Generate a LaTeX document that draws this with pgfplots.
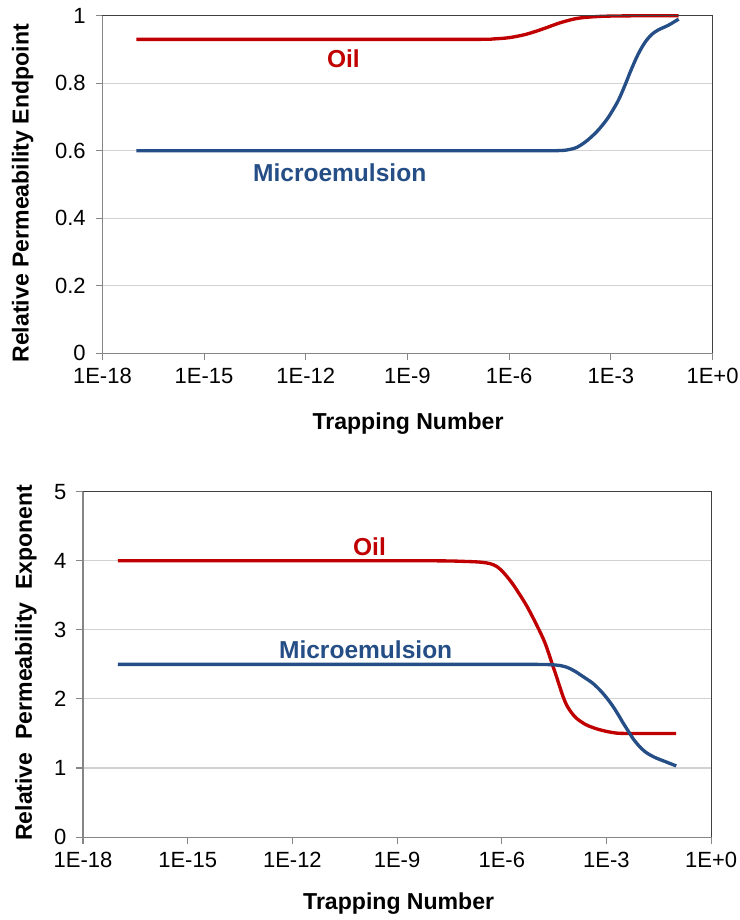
\documentclass[border=0pt]{standalone}
\usepackage{pgfplots}
\pgfplotsset{compat=1.18}
\usepackage{fontspec}
\setmainfont{Liberation Sans}
\definecolor{oilred}{RGB}{192,0,0}
\definecolor{meblue}{RGB}{37,78,134}
\definecolor{gridgray}{RGB}{210,210,210}
\definecolor{axgray}{RGB}{134,134,134}
\pgfplotsset{
  myax/.style={
    scale only axis,
    xmin=-18, xmax=0,
    xtick={-18,-15,-12,-9,-6,-3,0},
    xticklabels={1E-18,1E-15,1E-12,1E-9,1E-6,1E-3,1E+0},
    ymajorgrids,
    major grid style={gridgray, line width=0.8pt},
    axis line style={axgray, line width=0.8pt},
    tick style={axgray, line width=0.8pt},
    tick align=outside,
    xtick pos=bottom, ytick pos=left,
    major tick length=5pt,
    tick label style={font=\fontsize{16.5}{18}\selectfont, text=black},
    xticklabel style={yshift=-3pt},
    yticklabel style={xshift=-4pt},
    /pgf/number format/assume math mode=true,
    clip=false,
  },
  oil/.style={oilred, line width=2.5pt, smooth, tension=0.5, line join=round},
  me/.style={meblue, line width=2.5pt, smooth, tension=0.5, line join=round},
}
\begin{document}
\begin{tikzpicture}
\useasboundingbox (0,0) rectangle (554.25pt,-690pt);
% ---------------- top axis
\begin{axis}[myax,
  at={(76.8pt,-11.8pt)}, anchor=north west,
  width=457.6pt, height=253pt,
  ymin=0, ymax=1, ytick={0,0.2,0.4,0.6,0.8,1},
  yticklabels={0,0.2,0.4,0.6,0.8,1},
]
\addplot[oil] coordinates {
(-17,0.93) (-12,0.93) (-7,0.93) (-6.5,0.931) (-6,0.935) (-5.5,0.945) (-5,0.961)
(-4.5,0.979) (-4,0.992) (-3.5,0.997) (-3,0.999) (-2,1.0) (-1,1.0)};
\addplot[me] coordinates {
(-17,0.6) (-12,0.6) (-7,0.6) (-5,0.6) (-4.6,0.600) (-4.3,0.602) (-4.0,0.610)
(-3.7,0.630) (-3.4,0.658) (-3.1,0.695) (-2.8,0.745) (-2.6,0.790) (-2.4,0.840)
(-2.2,0.885) (-2.0,0.920) (-1.8,0.944) (-1.6,0.958) (-1.3,0.972) (-1,0.99)};
\draw[black!75, line width=0.8pt] (rel axis cs:0,1) -- (rel axis cs:1,1) -- (rel axis cs:1,0);
\node[oilred, font=\bfseries\fontsize{18.4}{20}\selectfont] at (axis cs:-10.89,0.872) {Oil};
\node[meblue, font=\bfseries\fontsize{18.4}{20}\selectfont] at (axis cs:-11.0,0.535) {Microemulsion};
\end{axis}
\node[font=\bfseries\fontsize{17.3}{20}\selectfont] at (306pt,-318pt) {Trapping Number};
\node[font=\bfseries\fontsize{17.3}{20}\selectfont, rotate=90] at (17pt,-145pt) {Relative Permeability Endpoint};
% ---------------- bottom axis
\begin{axis}[myax,
  at={(62.25pt,-368.8pt)}, anchor=north west,
  width=471.1pt, height=259pt,
  ymin=0, ymax=5, ytick={0,1,2,3,4,5},
]
\addplot[oil] coordinates {
(-17,4) (-12,4) (-8,4) (-7,3.99) (-6.6,3.98) (-6.34,3.96) (-6.15,3.92) (-5.95,3.83)
(-5.68,3.66) (-5.30,3.36) (-5.0,3.07) (-4.76,2.81) (-4.53,2.47) (-4.43,2.32)
(-4.34,2.18) (-4.24,2.03) (-4.14,1.91) (-4.0,1.80) (-3.86,1.72) (-3.6,1.63)
(-3.3,1.57) (-3.0,1.53) (-2.7,1.505) (-2.4,1.50) (-2,1.50) (-1,1.50)};
\addplot[me] coordinates {
(-17,2.5) (-12,2.5) (-7,2.5) (-5,2.5) (-4.43,2.49) (-4.14,2.46) (-3.9,2.40)
(-3.66,2.32) (-3.4,2.23) (-3.19,2.13) (-3.0,2.02) (-2.81,1.89) (-2.66,1.77)
(-2.52,1.65) (-2.37,1.53) (-2.23,1.42) (-2.05,1.31) (-1.85,1.22) (-1.6,1.15)
(-1.3,1.09) (-1,1.03)};
\draw[black!75, line width=0.8pt] (rel axis cs:0,1) -- (rel axis cs:1,1) -- (rel axis cs:1,0);
\node[oilred, font=\bfseries\fontsize{18.4}{20}\selectfont] at (axis cs:-9.79,4.20) {Oil};
\node[meblue, font=\bfseries\fontsize{18.4}{20}\selectfont] at (axis cs:-9.9,2.71) {Microemulsion};
\end{axis}
\node[font=\bfseries\fontsize{17.3}{20}\selectfont] at (299pt,-678pt) {Trapping Number};
\node[font=\bfseries\fontsize{17.3}{20}\selectfont, rotate=90] at (19.5pt,-497pt) {Relative\ \ Permeability\ \ Exponent};
\end{tikzpicture}
\end{document}
